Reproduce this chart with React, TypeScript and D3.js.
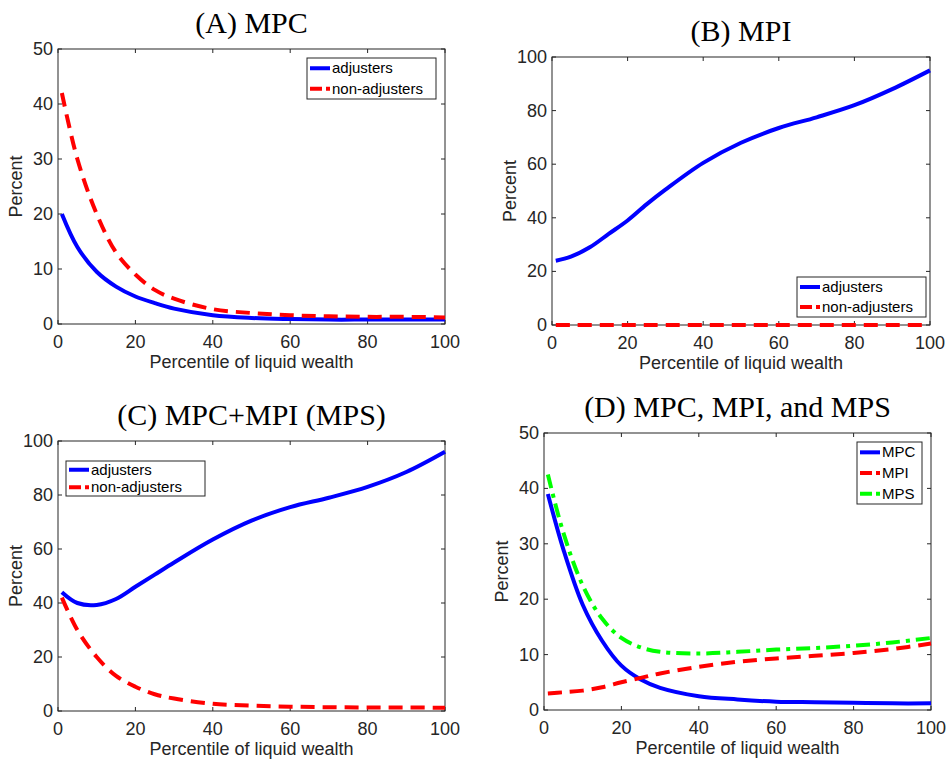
import * as d3 from 'd3';

const xs = [1, 5, 10, 15, 20, 25, 30, 40, 50, 60, 70, 80, 90, 100];

const mpcAdj = [20, 14, 9.5, 6.8, 5, 3.8, 2.8, 1.6, 1.1, 0.9, 0.8, 0.8, 0.8, 0.8];
const mpcNon = [42, 30, 20, 13, 9, 6.2, 4.6, 2.7, 2.0, 1.6, 1.4, 1.3, 1.3, 1.2];
const mpiAdj = [24, 25.5, 29, 34, 39, 45, 50.5, 60.5, 68, 73.5, 77.5, 82, 88, 95];
const mpiNon = [0, 0, 0, 0, 0, 0, 0, 0, 0, 0, 0, 0, 0, 0];
const mpsAdj = [44, 40, 39.3, 41.5, 46, 50.5, 55, 63.5, 70.5, 75.5, 79, 83, 88.5, 96];
const mpsNon = [42, 30, 20, 13, 9, 6.2, 4.6, 2.7, 2.0, 1.6, 1.4, 1.3, 1.3, 1.2];
const totMPC = [39, 29, 19, 12.5, 8, 5.5, 4, 2.5, 1.9, 1.5, 1.4, 1.3, 1.2, 1.2];
const totMPI = [3, 3.2, 3.5, 4.1, 5, 5.8, 6.6, 7.8, 8.7, 9.3, 9.8, 10.3, 11, 12];
const totMPS = [42.5, 32, 22.5, 16.5, 13, 11.3, 10.5, 10.2, 10.5, 10.9, 11.2, 11.6, 12.2, 13];

const xTicks = [0, 20, 40, 60, 80, 100];

const BLUE = '#0000ff', RED = '#ff0000', GREEN = '#00ff00';
const sans = 'Liberation Sans, Arial, sans-serif';

type Series = { name: string; values: number[]; color: string; dash: string };
type Panel = {
  title: string; l: number; r: number; t: number; b: number; ymax: number; yStep: number;
  series: Series[]; leg: { x: number; y: number; w: number; h: number };
};

const panels: Panel[] = [
  { title: '(A) MPC', l: 58, r: 445, t: 49, b: 324, ymax: 50, yStep: 10,
    series: [{ name: 'adjusters', values: mpcAdj, color: BLUE, dash: '' },
             { name: 'non-adjusters', values: mpcNon, color: RED, dash: '14,8' }],
    leg: { x: 307, y: 58, w: 129, h: 41 } },
  { title: '(B) MPI', l: 552, r: 930, t: 57, b: 325, ymax: 100, yStep: 20,
    series: [{ name: 'adjusters', values: mpiAdj, color: BLUE, dash: '' },
             { name: 'non-adjusters', values: mpiNon, color: RED, dash: '14,8' }],
    leg: { x: 797, y: 277, w: 129, h: 40 } },
  { title: '(C) MPC+MPI (MPS)', l: 58, r: 445, t: 441, b: 711, ymax: 100, yStep: 20,
    series: [{ name: 'adjusters', values: mpsAdj, color: BLUE, dash: '' },
             { name: 'non-adjusters', values: mpsNon, color: RED, dash: '14,8' }],
    leg: { x: 66, y: 461, w: 139, h: 35 } },
  { title: '(D) MPC, MPI, and MPS', l: 544, r: 931, t: 433, b: 710, ymax: 50, yStep: 10,
    series: [{ name: 'MPC', values: totMPC, color: BLUE, dash: '' },
             { name: 'MPI', values: totMPI, color: RED, dash: '14,8' },
             { name: 'MPS', values: totMPS, color: GREEN, dash: '14,6,4,6' }],
    leg: { x: 857, y: 442, w: 65, h: 62 } },
];

function PanelView({ p }: { p: Panel }) {
  const x = d3.scaleLinear().domain([0, 100]).range([p.l, p.r]);
  const y = d3.scaleLinear().domain([0, p.ymax]).range([p.b, p.t]);
  const yTicks = d3.range(0, p.ymax + 0.1, p.yStep);
  const line = d3.line<number>().x((_, i) => x(xs[i])).y(d => y(d)).curve(d3.curveCatmullRom.alpha(0.5));
  const rowH = p.leg.h / p.series.length;
  const cx = (p.l + p.r) / 2;
  return (
    <g>
      <text x={cx} y={p.t - 16} textAnchor="middle" fontFamily="Liberation Serif, serif" fontSize={30} fill="#000">{p.title}</text>
      <rect x={p.l} y={p.t} width={p.r - p.l} height={p.b - p.t} fill="#fff" stroke="#262626" strokeWidth={1} />
      {xTicks.map(t => (
        <g key={'x' + t}>
          <line x1={x(t)} x2={x(t)} y1={p.b} y2={p.b - 4} stroke="#262626" />
          <line x1={x(t)} x2={x(t)} y1={p.t} y2={p.t + 4} stroke="#262626" />
          <text x={x(t)} y={p.b + 24} textAnchor="middle" fontFamily={sans} fontSize={18} fill="#262626">{t}</text>
        </g>
      ))}
      {yTicks.map(t => (
        <g key={'y' + t}>
          <line x1={p.l} x2={p.l + 4} y1={y(t)} y2={y(t)} stroke="#262626" />
          <line x1={p.r} x2={p.r - 4} y1={y(t)} y2={y(t)} stroke="#262626" />
          <text x={p.l - 5} y={y(t) + 6} textAnchor="end" fontFamily={sans} fontSize={18} fill="#262626">{t}</text>
        </g>
      ))}
      <text x={cx} y={p.b + 44} textAnchor="middle" fontFamily={sans} fontSize={18} fill="#262626">Percentile of liquid wealth</text>
      <text transform={`translate(${p.l - 36},${(p.t + p.b) / 2}) rotate(-90)`} textAnchor="middle" fontFamily={sans} fontSize={18} fill="#262626">Percent</text>
      {p.series.map(s => (
        <path key={s.name} d={line(s.values) || ''} fill="none" stroke={s.color} strokeWidth={4} strokeDasharray={s.dash} />
      ))}
      <rect x={p.leg.x} y={p.leg.y} width={p.leg.w} height={p.leg.h} fill="#fff" stroke="#262626" />
      {p.series.map((s, i) => {
        const yy = p.leg.y + rowH * (i + 0.5);
        return (
          <g key={'l' + s.name}>
            <line x1={p.leg.x + 3} x2={p.leg.x + 23} y1={yy} y2={yy} stroke={s.color} strokeWidth={4} strokeDasharray={s.dash ? '12,4' : ''} />
            <text x={p.leg.x + 25} y={yy + 5} fontFamily={sans} fontSize={15} fill="#000">{s.name}</text>
          </g>
        );
      })}
    </g>
  );
}

export default function App() {
  return (
    <svg width={947} height={763} style={{ position: 'absolute', left: 0, top: 0 }}>
      <rect width={947} height={763} fill="#fff" />
      {panels.map(p => <PanelView key={p.title} p={p} />)}
    </svg>
  );
}
